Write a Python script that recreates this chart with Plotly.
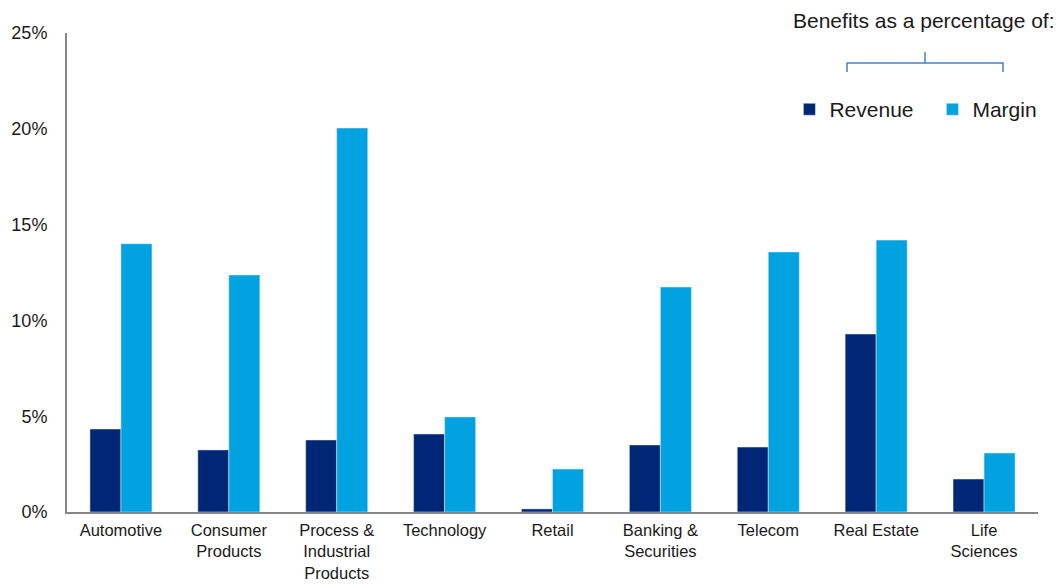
import plotly.graph_objects as go

categories = [
    "Automotive", "Consumer<br>Products", "Process &<br>Industrial<br>Products",
    "Technology", "Retail", "Banking &<br>Securities", "Telecom",
    "Real Estate", "Life<br>Sciences",
]
revenue = [4.33, 3.24, 3.76, 4.07, 0.16, 3.50, 3.39, 9.29, 1.72]
margin = [14.0, 12.37, 20.04, 4.96, 2.24, 11.74, 13.57, 14.19, 3.08]
y_ticks = [0, 5, 10, 15, 20, 25]

NAVY = "#002776"
CYAN = "#00A3E0"
AXIS = "#878787"
FONT = "Liberation Sans, Arial, sans-serif"

fig = go.Figure()
fig.add_trace(go.Bar(name="Revenue", x=categories, y=revenue, marker_color=NAVY))
fig.add_trace(go.Bar(name="Margin", x=categories, y=margin, marker_color=CYAN))

fig.update_layout(
    width=1059, height=585,
    margin=dict(l=67, r=21, t=33, b=73, autoexpand=False),
    paper_bgcolor="white", plot_bgcolor="white",
    barmode="group", bargap=0.425, bargroupgap=0,
    font=dict(family=FONT, color="#1a1a1a", size=18),
    showlegend=True,
    legend=dict(
        orientation="h", x=0.744, y=0.84, xanchor="left", yanchor="middle",
        font=dict(size=21, color="#1a1a1a"), bgcolor="rgba(0,0,0,0)",
        entrywidth=98, itemwidth=30, traceorder="normal",
    ),
)
fig.update_yaxes(
    range=[0, 25], tickvals=y_ticks, ticktext=[f"{v}%" for v in y_ticks],
    showgrid=False, zeroline=False, showline=True, linecolor=AXIS, linewidth=2,
    ticks="", tickfont=dict(size=18), ticklabelstandoff=14,
)
fig.update_xaxes(
    showgrid=False, showline=True, linecolor=AXIS, linewidth=2, ticks="",
    tickfont=dict(size=16.5), tickangle=0, ticklabelstandoff=2,
)

# heading above the legend
fig.add_annotation(
    text="Benefits as a percentage of:", xref="paper", yref="paper",
    x=1.0196, y=1.027, xanchor="right", yanchor="middle", showarrow=False,
    font=dict(size=21, color="#1a1a1a"),
)
# curly bracket spanning both legend entries
x0, x1, xm = (847 - 67) / 971, (1003 - 67) / 971, (925 - 67) / 971
yb, yl, yt = (512 - 72) / 479, (512 - 63) / 479, (512 - 52) / 479
fig.add_shape(
    type="path", xref="paper", yref="paper",
    path=(f"M {x0} {yb} L {x0} {yl} L {xm} {yl} L {xm} {yt} "
          f"M {xm} {yl} L {x1} {yl} L {x1} {yb}"),
    line=dict(color="#4a7fc1", width=1.5),
)

fig.write_html("out.html")
